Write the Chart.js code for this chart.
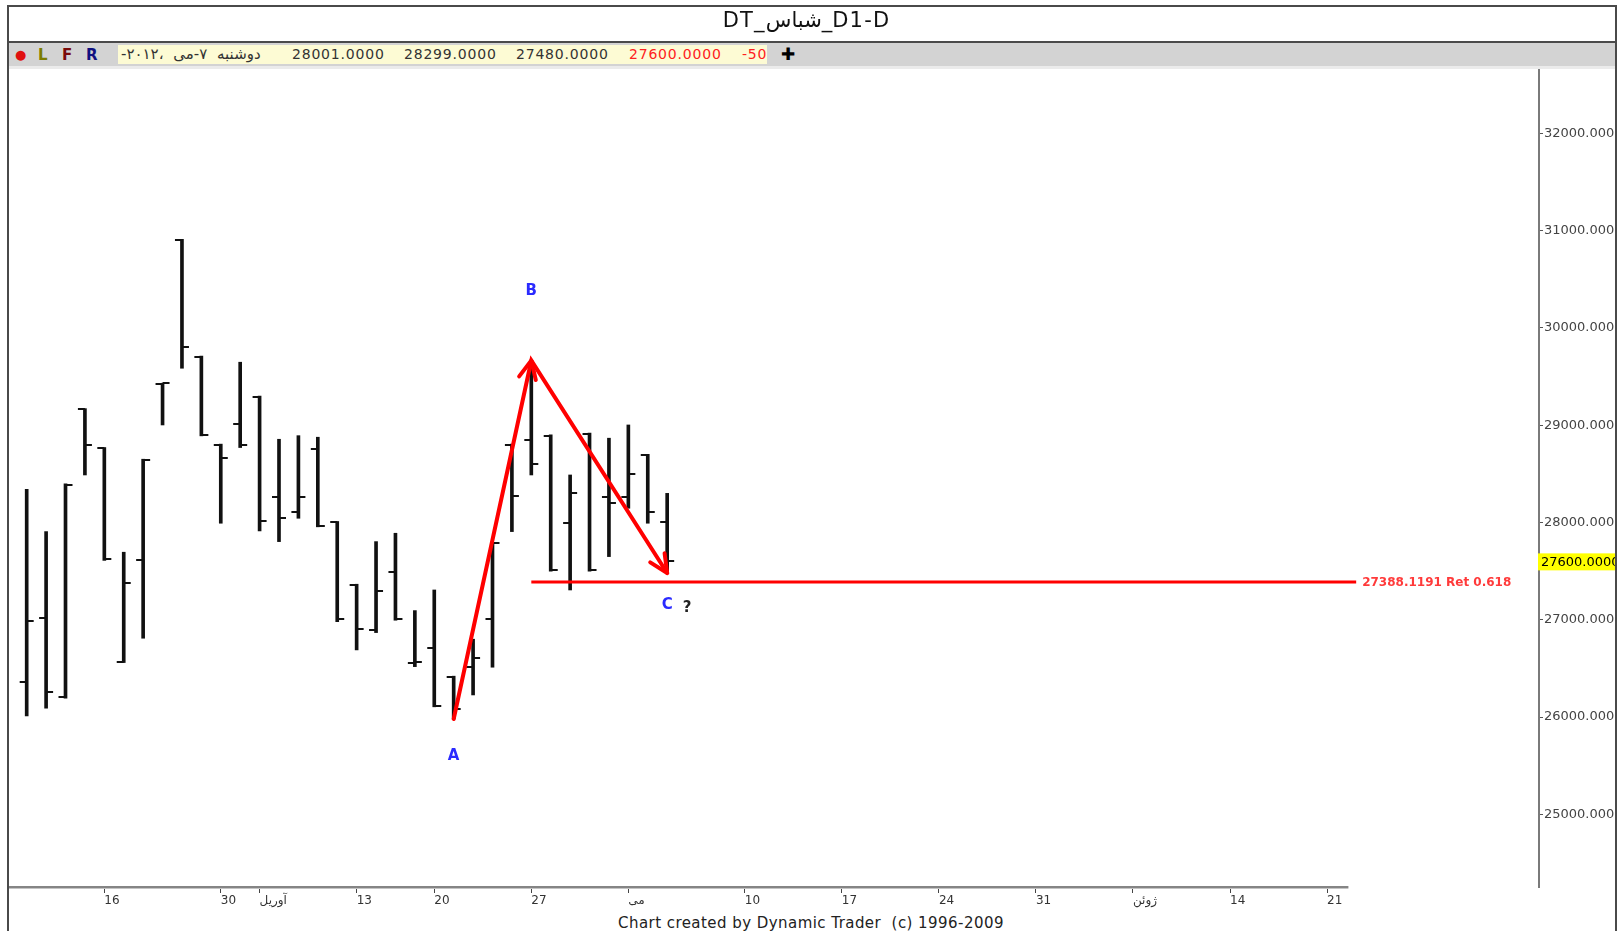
<!DOCTYPE html>
<html>
<head>
<meta charset="utf-8">
<script src="https://cdn.jsdelivr.net/npm/chart.js@4.4.1/dist/chart.umd.min.js"></script>
<style>
  body { margin: 0; width: 1623px; height: 931px; overflow: hidden; position: relative; background: #fff; font-family: "DejaVu Sans", sans-serif; }
  .ln { position: absolute; background: #4a4a4a; z-index: 3; }
  #title { position: absolute; left: 2px; top: 8px; width: 1609px; text-align: center; font-size: 21px; letter-spacing: 1.2px; color: #111; z-index: 3; }
  #toolbar { position: absolute; left: 9px; top: 43px; width: 1606px; height: 23px; background: #d3d3d3; z-index: 2; }
  #strip { position: absolute; left: 9px; top: 66px; width: 1606px; height: 3px; background: #ebebeb; z-index: 2; }
  .tb { position: absolute; top: 3px; font-size: 15px; font-weight: bold; }
  #quote { position: absolute; left: 109px; top: 2px; width: 649px; height: 19px; background: #fdfbd4; overflow: hidden; font-size: 14px; color: #333; }
  #quote span { position: absolute; top: 1px; letter-spacing: 0.8px; white-space: nowrap; }
  #credit { position: absolute; left: 618px; top: 914px; font-size: 15px; letter-spacing: 0.45px; color: #222; white-space: nowrap; }
  canvas { position: absolute; left: 0; top: 0; z-index: 1; }
</style>
</head>
<body>
<div class="ln" style="left:7px;top:5px;width:1610px;height:2px"></div>
<div class="ln" style="left:7px;top:5px;width:2px;height:926px"></div>
<div class="ln" style="left:1615px;top:5px;width:2px;height:926px"></div>
<div class="ln" style="left:7px;top:41px;width:1610px;height:2px"></div>
<div id="title">DT_شباس_D1-D</div>
<div id="toolbar">
  <span class="tb" style="left:6px;color:#e01010;font-size:13px;top:4px">●</span>
  <span class="tb" style="left:29px;color:#7c7c00">L</span>
  <span class="tb" style="left:53px;color:#7a0a0a">F</span>
  <span class="tb" style="left:77px;color:#101080">R</span>
  <div id="quote"></div>
  <span class="tb" style="left:772px;color:#000;font-size:17px;top:1px">✚</span>
</div>
<div id="strip"></div>
<canvas id="chart" width="1616" height="931"></canvas>
<div id="credit">Chart created by Dynamic Trader&nbsp; (c) 1996-2009</div>

<script>
// daily bars, 2012, one per trading day
const barOpen  = [26364, 27016, 26210, 29164, 28763, 26570, 27615, 29420, 30904, 29704, 28797, 29012, 29293, 28265, 28105, 28756, 28002,
                  27358, 26895, 27495, 26555, 26714, 26415, 26512, 27008, 28797, 28848, 28892, 27998, 28910, 28259, 28259, 28694, 28001];
const barHigh  = [28341, 27906, 28396, 29170, 28770, 27694, 28650, 29431, 30910, 29710, 28805, 29647, 29300, 28855, 28892, 28876, 28010,
                  27365, 27803, 27889, 27094, 27306, 26420, 26800, 27795, 28805, 29665, 28900, 28488, 28918, 28866, 29002, 28700, 28299];
const barLow   = [26012, 26091, 26195, 28488, 27610, 26560, 26810, 29002, 29585, 28890, 27992, 28770, 27913, 27803, 28043, 27955, 26980,
                  26690, 26868, 26995, 26518, 26105, 25980, 26227, 26512, 27906, 28488, 27500, 27306, 27500, 27649, 28146, 27992, 27480];
const barClose = [26991, 26261, 28380, 28797, 27622, 27375, 28643, 29431, 29807, 28899, 28666, 28797, 28016, 28043, 28265, 27964, 27008,
                  26903, 27296, 27005, 26565, 26114, 26080, 26605, 27786, 28273, 28601, 27512, 28300, 27512, 28198, 28499, 28105, 27600];

const xTickIndex  = [4, 10, 12, 17, 21, 26, 31, 37, 42, 47, 52, 57, 62, 67];
const xTickLabels = ['16', '30', 'آوریل', '13', '20', '27', 'می', '10', '17', '24', '31', 'ژوئن', '14', '21'];
const yTickValues = [25000, 26000, 27000, 28000, 29000, 30000, 31000, 32000];

const pivotNames = ['A', 'B', 'C'];
const pivotIndex = [22, 26, 33];
const pivotPrice = [barLow[22], barHigh[26], barLow[33]];
const retRatio = 0.618;
const retLevel = 27388.1191;
const retSpan = [26, 68.5];

const quoteDate = 'دوشنبه ۷-می ،۲۰۱۲-';

// header quote line
const last = barClose.length - 1;
const quoteItems = [
    { text: quoteDate, left: 3, color: '#333', dir: 'rtl' },
    { text: barOpen[last].toFixed(4), left: 174 },
    { text: barHigh[last].toFixed(4), left: 286 },
    { text: barLow[last].toFixed(4), left: 398 },
    { text: barClose[last].toFixed(4), left: 511, color: '#ff2020' },
    { text: (barClose[last] - barClose[last - 1]).toFixed(4), left: 624, color: '#ff2020' },
];
const quoteBox = document.getElementById('quote');
quoteItems.forEach(q => {
    const s = document.createElement('span');
    s.textContent = q.text;
    s.style.left = q.left + 'px';
    if (q.color) s.style.color = q.color;
    if (q.dir) { s.dir = q.dir; s.style.letterSpacing = '0'; s.style.wordSpacing = '5px'; s.style.fontSize = '15px'; s.style.top = '0px'; }
    quoteBox.appendChild(s);
});

const ohlcTicks = {
    id: 'ohlcTicks',
    beforeDatasetsDraw(chart) {
        const { ctx, scales: { x, y } } = chart;
        ctx.save();
        ctx.strokeStyle = '#111';
        ctx.lineWidth = 2;
        barOpen.forEach((o, i) => {
            const px = x.getPixelForValue(i);
            const yo = Math.round(y.getPixelForValue(o));
            const yc = Math.round(y.getPixelForValue(barClose[i]));
            ctx.beginPath();
            ctx.moveTo(px - 7, yo); ctx.lineTo(px, yo);
            ctx.moveTo(px, yc); ctx.lineTo(px + 7, yc);
            ctx.stroke();
        });
        ctx.restore();
    }
};

function arrowHead(ctx, x0, y0, x1, y1) {
    const a = Math.atan2(y1 - y0, x1 - x0) + Math.PI;
    const len = 20, spread = 0.44;
    ctx.beginPath();
    ctx.moveTo(x1 + len * Math.cos(a - spread), y1 + len * Math.sin(a - spread));
    ctx.lineTo(x1, y1);
    ctx.lineTo(x1 + len * Math.cos(a + spread), y1 + len * Math.sin(a + spread));
    ctx.stroke();
}

const overlay = {
    id: 'overlay',
    afterDraw(chart) {
        const { ctx, scales: { x, y } } = chart;
        ctx.save();

        // time axis line stops short of the price axis
        const axisEnd = x.getPixelForValue(68.1);
        ctx.fillStyle = '#858585';
        ctx.fillRect(x.left, 886, axisEnd - x.left, 2);
        ctx.fillStyle = '#c4c4c4';
        ctx.fillRect(x.left, 888, axisEnd - x.left, 1);

        // arrow heads
        ctx.strokeStyle = '#ff0000';
        ctx.lineWidth = 4;
        ctx.lineCap = 'round';
        ctx.lineJoin = 'round';
        const pts = pivotIndex.map((xi, i) => [x.getPixelForValue(xi), y.getPixelForValue(pivotPrice[i])]);
        for (let i = 1; i < pts.length; i++) {
            arrowHead(ctx, pts[i - 1][0], pts[i - 1][1], pts[i][0], pts[i][1]);
        }

        // wave letters
        const dy = [37, -69, 32];
        ctx.font = 'bold 15px "DejaVu Sans"';
        ctx.textAlign = 'center';
        ctx.textBaseline = 'middle';
        ctx.fillStyle = '#2b2bff';
        pts.forEach((p, i) => ctx.fillText(pivotNames[i], p[0], p[1] + dy[i]));
        ctx.fillStyle = '#222';
        ctx.fillText('?', pts[2][0] + 20, pts[2][1] + 35);

        // retracement label
        ctx.font = 'bold 12px "DejaVu Sans"';
        ctx.textAlign = 'left';
        ctx.fillStyle = '#ff3a3a';
        ctx.fillText(retLevel.toFixed(4) + ' Ret ' + retRatio, x.getPixelForValue(retSpan[1]) + 6, y.getPixelForValue(retLevel) + 1);

        // last price marker on the price axis
        const yl = y.getPixelForValue(barClose[last]);
        ctx.fillStyle = '#ffff00';
        ctx.fillRect(y.left - 1, yl - 8, chart.width - y.left + 1, 17);
        ctx.fillStyle = '#000';
        ctx.font = '13px "DejaVu Sans"';
        ctx.fillText(barClose[last].toFixed(4), y.left + 2, yl + 1);

        ctx.restore();
    }
};

new Chart(document.getElementById('chart'), {
    type: 'bar',
    data: {
        datasets: [
            {
                type: 'line',
                data: pivotIndex.map((xi, i) => ({ x: xi, y: pivotPrice[i] })),
                borderColor: '#ff0000',
                borderWidth: 4,
                borderCapStyle: 'round',
                pointRadius: 0,
                tension: 0,
                order: 1,
            },
            {
                type: 'line',
                data: retSpan.map(xi => ({ x: xi, y: retLevel })),
                borderColor: '#ff0000',
                borderWidth: 3,
                pointRadius: 0,
                order: 2,
            },
            {
                type: 'bar',
                data: barLow.map((l, i) => ({ x: i, y: [l, barHigh[i]] })),
                backgroundColor: '#111',
                barThickness: 3,
                order: 3,
            },
        ],
    },
    options: {
        responsive: false,
        animation: false,
        layout: { padding: { left: 8, top: 68, right: 0, bottom: 0 } },
        plugins: { legend: { display: false }, tooltip: { enabled: false } },
        scales: {
            x: {
                type: 'linear',
                min: -0.963,
                max: 77.92,
                offset: false,
                border: { display: false },
                grid: { offset: false, drawOnChartArea: false, drawTicks: true, tickLength: 6, color: '#444', lineWidth: 1 },
                afterBuildTicks: axis => { axis.ticks = xTickIndex.map(v => ({ value: v })); },
                afterFit: s => { s.height = 44; s.paddingLeft = 0; s.paddingRight = 0; },
                ticks: {
                    autoSkip: false,
                    maxRotation: 0,
                    align: 'start',
                    padding: 1,
                    color: '#333',
                    font: { family: 'DejaVu Sans', size: 12 },
                    callback: (v, i) => xTickLabels[i],
                },
            },
            y: {
                type: 'linear',
                position: 'right',
                min: 24253,
                max: 32671,
                border: { display: true, color: '#7a7a7a', width: 2 },
                grid: { drawOnChartArea: false, tickLength: 4, color: '#555' },
                afterBuildTicks: axis => { axis.ticks = yTickValues.map(v => ({ value: v })); },
                afterFit: s => { s.width = 77; s.paddingTop = 0; s.paddingBottom = 0; },
                ticks: {
                    padding: 1,
                    color: '#444',
                    font: { family: 'DejaVu Sans', size: 13 },
                    callback: v => v.toFixed(4),
                },
            },
        },
    },
    plugins: [ohlcTicks, overlay],
});
</script>
</body>
</html>
